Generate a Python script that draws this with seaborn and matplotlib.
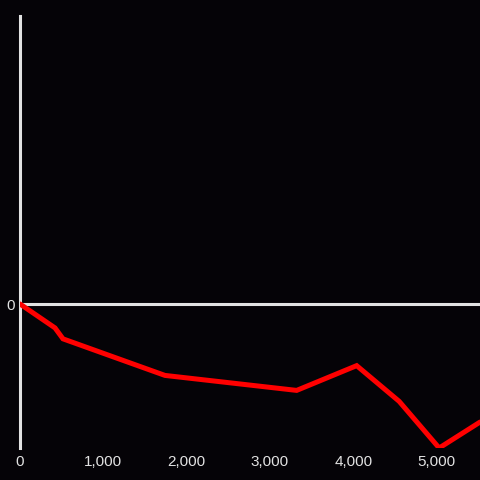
import pandas as pd
import matplotlib.pyplot as plt
import seaborn as sns

# Values
x_vals = [0, 420, 516, 1740, 3320, 4040, 4550, 5030, 5520]
y_vals = [0, -83, -121, -248, -300, -214, -338, -500, -410]
x_ticks = [0, 1000, 2000, 3000, 4000, 5000]
x_tick_labels = ["0", "1,000", "2,000", "3,000", "4,000", "5,000"]
y_ticks = [0]
y_tick_labels = ["0"]

bg = "#050307"
axis_col = "#e2e2e2"

sns.set_theme(style="dark")
plt.rcParams['font.family'] = ['Liberation Sans', 'DejaVu Sans']

df = pd.DataFrame({"x": x_vals, "y": y_vals})

fig = plt.figure(figsize=(4.8, 4.8), dpi=100, facecolor=bg)
ax = fig.add_axes([20 / 480, 32 / 480, 460 / 480, 432 / 480])
ax.set_facecolor(bg)

sns.lineplot(data=df, x="x", y="y", color="#ff0000", linewidth=3.6, ax=ax,
             solid_joinstyle="miter", zorder=3)
ax.axhline(0, color=axis_col, linewidth=2.2, zorder=2)

ax.set_xlim(0, 5520)
ax.set_ylim(-500, 1000)
ax.set_xticks(x_ticks)
ax.set_xticklabels(x_tick_labels)
ax.set_yticks(y_ticks)
ax.set_yticklabels(y_tick_labels)
ax.tick_params(axis="both", length=0, colors=axis_col, labelsize=11)
ax.tick_params(axis="x", pad=5)
ax.tick_params(axis="y", pad=4)
ax.set_xlabel("")
ax.set_ylabel("")
ax.grid(False)

for side in ["top", "right", "bottom"]:
    ax.spines[side].set_visible(False)
ax.spines["left"].set_color(axis_col)
ax.spines["left"].set_linewidth(2.2)

fig.savefig("out.png", dpi=100, facecolor=bg)
plt.close(fig)
